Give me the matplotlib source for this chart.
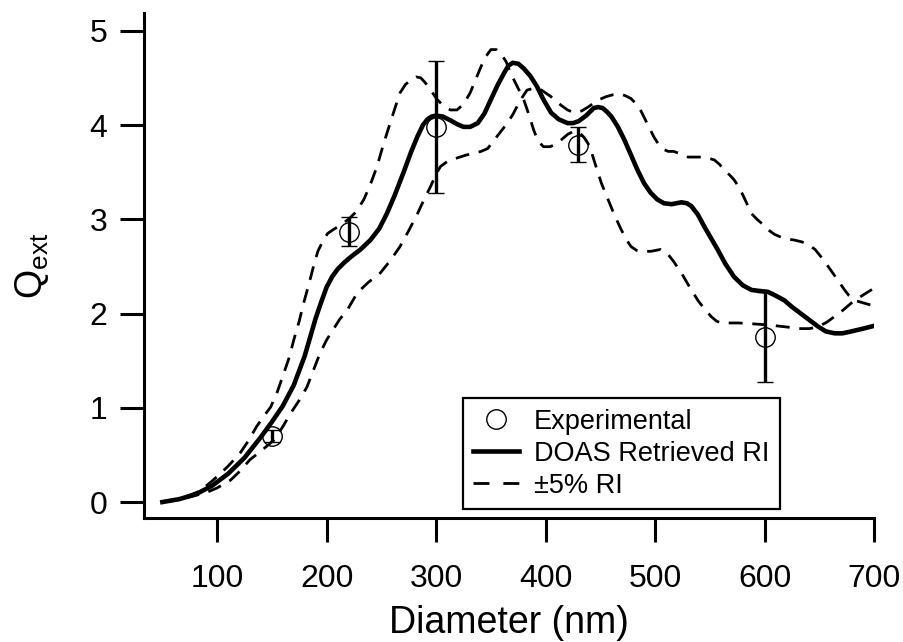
import matplotlib
matplotlib.use("Agg")
import matplotlib.pyplot as plt
from matplotlib.lines import Line2D

plt.rcParams['font.family'] = ['Liberation Sans', 'DejaVu Sans']
plt.rcParams['mathtext.default'] = 'regular'
plt.rcParams['lines.scale_dashes'] = False

# experimental points with error bars
exp_d = [150, 220, 300, 430, 600]
exp_q = [0.70, 2.87, 3.98, 3.79, 1.75]
exp_err = [0.06, 0.15, 0.70, 0.185, 0.48]

# DOAS retrieved RI (solid)
doas_d = [50, 65, 80, 95, 110, 125, 140, 150, 160, 170, 180, 190, 195, 200,
          205, 210, 216, 222, 231, 240, 248, 255, 262, 270, 277, 283, 288,
          292, 296, 300, 306, 313, 319, 325, 331, 338, 344, 350, 356, 362,
          366, 370, 375, 380, 386, 392, 398, 405, 412, 420, 425, 430, 437,
          444, 448, 452, 456, 460, 466, 472, 478, 484, 490, 496, 502, 508,
          515, 524, 529, 533, 539, 545, 551, 557, 564, 572, 580, 588, 595,
          603, 610, 618, 625, 633, 641, 649, 656, 664, 671, 679, 690, 700]
doas_q = [0.00, 0.03, 0.08, 0.17, 0.30, 0.47, 0.69, 0.85, 1.02, 1.24, 1.55,
          1.95, 2.12, 2.28, 2.39, 2.47, 2.54, 2.60, 2.68, 2.78, 2.90, 3.06,
          3.25, 3.49, 3.71, 3.88, 4.00, 4.06, 4.09, 4.10, 4.09, 4.05, 4.01,
          3.98, 3.98, 4.02, 4.12, 4.27, 4.42, 4.55, 4.63, 4.66, 4.65, 4.60,
          4.52, 4.41, 4.27, 4.13, 4.06, 4.02, 4.02, 4.04, 4.10, 4.18, 4.19,
          4.18, 4.14, 4.09, 3.98, 3.84, 3.68, 3.52, 3.38, 3.28, 3.21, 3.17,
          3.16, 3.18, 3.17, 3.14, 3.05, 2.92, 2.80, 2.68, 2.53, 2.39, 2.30,
          2.25, 2.24, 2.23, 2.19, 2.14, 2.07, 2.00, 1.93, 1.86, 1.81, 1.79,
          1.79, 1.81, 1.84, 1.87]

# +/-5% RI (dashed), first one peaks earlier
ri_a_d = [50, 70, 85, 100, 110, 121, 128, 136, 142, 149, 155, 161, 166, 170,
          175, 179, 184, 188, 192, 197, 201, 206, 213, 220, 227, 234, 240,
          246, 252, 258, 263, 267, 272, 277, 282, 286, 290, 295, 301, 307,
          313, 319, 325, 331, 336, 341, 345, 350, 355, 359, 364, 368, 374,
          380, 385, 389, 393, 398, 404, 410, 415, 420, 425, 430, 435, 440,
          446, 451, 457, 463, 469, 474, 478, 483, 487, 496, 505, 511, 517,
          524, 531, 539, 545, 551, 556, 560, 568, 576, 590, 603, 618, 633,
          641, 649, 657, 664, 672, 679, 689, 700]
ri_a_q = [0.00, 0.05, 0.12, 0.27, 0.38, 0.52, 0.64, 0.80, 0.90, 1.01, 1.17,
          1.37, 1.54, 1.72, 1.92, 2.11, 2.32, 2.50, 2.66, 2.78, 2.85, 2.89,
          2.94, 3.00, 3.08, 3.21, 3.37, 3.56, 3.80, 4.02, 4.20, 4.34, 4.43,
          4.48, 4.51, 4.50, 4.45, 4.37, 4.27, 4.20, 4.16, 4.16, 4.22, 4.34,
          4.48, 4.62, 4.72, 4.80, 4.80, 4.76, 4.67, 4.55, 4.41, 4.27, 4.10,
          3.95, 3.83, 3.77, 3.77, 3.80, 3.85, 3.90, 3.93, 3.93, 3.87, 3.78,
          3.56, 3.38, 3.21, 3.04, 2.89, 2.78, 2.71, 2.67, 2.66, 2.66, 2.68,
          2.64, 2.55, 2.43, 2.29, 2.14, 2.05, 1.97, 1.92, 1.90, 1.90, 1.90,
          1.89, 1.88, 1.86, 1.84, 1.84, 1.86, 1.91, 1.97, 2.04, 2.11, 2.19,
          2.27]

ri_b_d = [50, 70, 90, 100, 112, 121, 130, 141, 152, 160, 167, 175, 182, 188,
          194, 200, 206, 212, 219, 228, 238, 249, 258, 267, 275, 283, 289,
          295, 300, 304, 311, 319, 327, 334, 341, 347, 353, 359, 365, 370,
          374, 379, 383, 389, 395, 400, 405, 414, 420, 426, 433, 440, 447,
          455, 461, 468, 473, 478, 483, 487, 493, 499, 504, 508, 512, 517,
          524, 530, 536, 542, 548, 554, 559, 563, 568, 572, 576, 580, 584,
          588, 593, 598, 603, 609, 615, 621, 627, 634, 640, 646, 653, 661,
          667, 673, 677, 682, 691, 700]
ri_b_q = [0.00, 0.04, 0.10, 0.15, 0.23, 0.33, 0.45, 0.55, 0.66, 0.80, 0.94,
          1.08, 1.22, 1.40, 1.58, 1.72, 1.83, 1.94, 2.04, 2.22, 2.33, 2.43,
          2.56, 2.71, 2.88, 3.06, 3.21, 3.35, 3.48, 3.56, 3.62, 3.65, 3.68,
          3.70, 3.72, 3.75, 3.84, 3.93, 4.02, 4.11, 4.20, 4.30, 4.37, 4.39,
          4.38, 4.34, 4.30, 4.21, 4.16, 4.13, 4.15, 4.20, 4.26, 4.30, 4.32,
          4.33, 4.31, 4.28, 4.22, 4.15, 4.01, 3.87, 3.78, 3.74, 3.72, 3.72,
          3.69, 3.66, 3.66, 3.66, 3.65, 3.63, 3.58, 3.52, 3.47, 3.42, 3.35,
          3.26, 3.16, 3.06, 3.00, 2.95, 2.89, 2.84, 2.81, 2.79, 2.78, 2.76,
          2.73, 2.68, 2.58, 2.45, 2.35, 2.25, 2.19, 2.14, 2.11, 2.08]

fig = plt.figure(figsize=(9.04, 6.42), dpi=100)
ax = fig.add_axes([0.159, 0.193, 0.808, 0.787])

dash = (10, 7)
ax.plot(ri_a_d, ri_a_q, color='black', lw=2.0, dashes=dash)
ax.plot(ri_b_d, ri_b_q, color='black', lw=2.0, dashes=dash)
ax.plot(doas_d, doas_q, color='black', lw=3.3, solid_joinstyle='round')
ax.errorbar(exp_d, exp_q, yerr=exp_err, fmt='o', color='black', mfc='none',
            mec='black', ms=14, mew=1.0, elinewidth=2.4, capsize=6,
            capthick=3.0)

ax.set_xlim(33, 700)
ax.set_ylim(-0.17, 5.19)
ax.set_xticks([100, 200, 300, 400, 500, 600, 700])
ax.set_yticks([0, 1, 2, 3, 4, 5])

for s in ['top', 'right']:
    ax.spines[s].set_visible(False)
for s in ['left', 'bottom']:
    ax.spines[s].set_linewidth(2.2)
ax.tick_params(direction='out', length=17, width=2.2, labelsize=23)
ax.tick_params(axis='y', pad=9)
ax.tick_params(axis='x', pad=16)

ax.set_xlabel('Diameter (nm)', fontsize=27, labelpad=8)
ax.set_ylabel('Q$_{ext}$', fontsize=27, labelpad=28)

handles = [
    Line2D([], [], ls='none', marker='o', mfc='none', mec='black', ms=14,
           mew=1.0),
    Line2D([], [], color='black', lw=3.3),
    Line2D([], [], color='black', lw=2.0, dashes=(11.5, 10)),
]
labels = ['Experimental', 'DOAS Retrieved RI', '±5% RI']
leg = ax.legend(handles, labels, loc='lower left',
                bbox_to_anchor=(0.437, 0.018), borderaxespad=0,
                fontsize=19.5, frameon=True, fancybox=False, framealpha=1,
                edgecolor='black', handlelength=1.7, handletextpad=0.55,
                labelspacing=0.22, borderpad=0.38)
leg.get_frame().set_linewidth(1.6)

fig.savefig('out.png', dpi=100)
